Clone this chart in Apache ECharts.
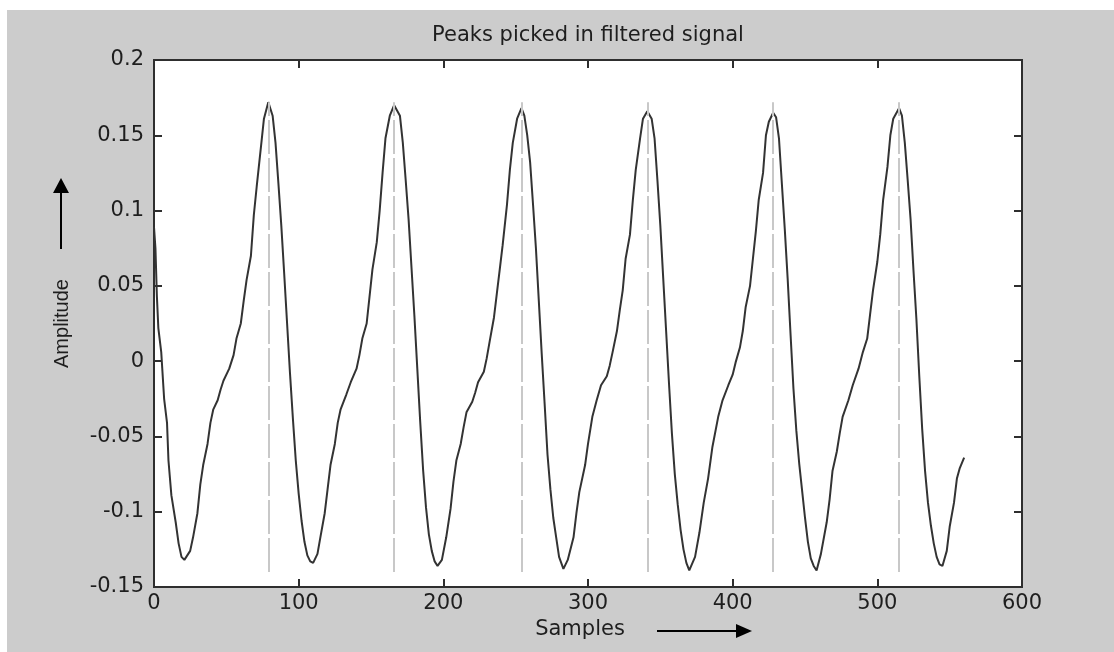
<!DOCTYPE html>
<html>
<head>
<meta charset="utf-8">
<title>Peaks picked in filtered signal</title>
<script src="https://cdn.jsdelivr.net/npm/echarts@6.0.0/dist/echarts.min.js"></script>
<style>
  html, body { margin: 0; padding: 0; background: #ffffff; }
  #chart { position: absolute; left: 7px; top: 10px; width: 1107px; height: 642px; background: #cccccc; }
</style>
</head>
<body>
<div id="chart"></div>
<script>
// filtered signal (sample index -> amplitude)
var samples = [
  0, 1, 2, 3, 5, 7, 9, 10, 12, 15, 17, 19, 21,
  25, 27, 30, 32, 34, 37, 39, 41, 44, 46, 48, 52, 55, 57, 60, 62, 64, 67, 69, 71, 74, 76, 79,
  82, 84, 86, 88, 90, 92, 94, 96, 98, 100, 102, 104, 106, 108, 110,
  113, 115, 118, 120, 122, 125, 127, 129, 133, 136, 140, 142, 144, 147, 149, 151, 154, 156, 158, 160, 163, 166,
  170, 172, 174, 176, 178, 180, 182, 184, 186, 188, 190, 192, 194, 196,
  199, 202, 205, 207, 209, 212, 214, 216, 220, 222, 224, 228, 230, 232, 235, 237, 239, 241, 244, 246, 248, 251, 254,
  256, 258, 260, 262, 264, 266, 268, 270, 272, 274, 276, 278, 280, 283,
  286, 290, 292, 294, 298, 300, 303, 306, 309, 313, 315, 317, 320, 322, 324, 326, 329, 331, 333, 336, 338, 341,
  344, 346, 348, 350, 352, 354, 356, 358, 360, 362, 364, 366, 368, 370,
  374, 377, 380, 383, 386, 390, 393, 397, 400, 402, 405, 407, 409, 412, 414, 416, 418, 421, 423, 425, 428,
  430, 432, 434, 436, 438, 440, 442, 444, 446, 448, 450, 452, 454, 456, 458,
  461, 465, 467, 469, 472, 474, 476, 480, 483, 487, 490, 493, 495, 497, 500, 502, 504, 507, 509, 511, 515,
  517, 519, 521, 523, 525, 527, 529, 531, 533, 535, 537, 539, 541, 543, 545,
  548, 550, 553, 555, 557, 560
];
var amplitude = [
  0.089, 0.075, 0.043, 0.022, 0.006, -0.025, -0.041, -0.066, -0.089, -0.107, -0.121, -0.130, -0.132,
  -0.126, -0.117, -0.101, -0.082, -0.069, -0.055, -0.041, -0.032, -0.026, -0.019, -0.013, -0.005, 0.004, 0.015, 0.025, 0.040, 0.054, 0.070, 0.097, 0.116, 0.143, 0.161, 0.172,
  0.163, 0.145, 0.118, 0.090, 0.058, 0.025, -0.008, -0.038, -0.066, -0.088, -0.106, -0.120, -0.129, -0.133, -0.134,
  -0.128, -0.117, -0.101, -0.085, -0.069, -0.055, -0.041, -0.032, -0.022, -0.014, -0.005, 0.004, 0.015, 0.025, 0.043, 0.061, 0.079, 0.100, 0.125, 0.148, 0.163, 0.170,
  0.163, 0.145, 0.120, 0.094, 0.062, 0.030, -0.005, -0.040, -0.072, -0.097, -0.115, -0.126, -0.133, -0.136,
  -0.132, -0.117, -0.098, -0.080, -0.066, -0.055, -0.044, -0.034, -0.027, -0.021, -0.014, -0.007, 0.002, 0.013, 0.029, 0.045, 0.061, 0.077, 0.104, 0.127, 0.145, 0.161, 0.168,
  0.163, 0.150, 0.132, 0.104, 0.075, 0.040, 0.005, -0.028, -0.062, -0.085, -0.104, -0.117, -0.130, -0.138,
  -0.132, -0.117, -0.101, -0.087, -0.069, -0.055, -0.037, -0.026, -0.016, -0.010, -0.003, 0.006, 0.020, 0.034, 0.047, 0.068, 0.084, 0.107, 0.127, 0.148, 0.161, 0.166,
  0.161, 0.148, 0.120, 0.090, 0.055, 0.020, -0.015, -0.048, -0.075, -0.095, -0.112, -0.125, -0.134, -0.139,
  -0.130, -0.114, -0.094, -0.078, -0.057, -0.037, -0.026, -0.016, -0.009, -0.001, 0.009, 0.020, 0.036, 0.050, 0.068, 0.086, 0.107, 0.125, 0.150, 0.159, 0.165,
  0.162, 0.148, 0.118, 0.088, 0.055, 0.018, -0.018, -0.046, -0.068, -0.086, -0.104, -0.120, -0.131, -0.136, -0.139,
  -0.128, -0.107, -0.092, -0.073, -0.060, -0.048, -0.037, -0.026, -0.016, -0.005, 0.006, 0.015, 0.031, 0.047, 0.066, 0.084, 0.107, 0.129, 0.150, 0.161, 0.168,
  0.163, 0.145, 0.120, 0.094, 0.060, 0.028, -0.010, -0.045, -0.073, -0.094, -0.109, -0.121, -0.130, -0.135, -0.136,
  -0.126, -0.110, -0.094, -0.078, -0.071, -0.064
];

// picked peaks (sample index) and the extent of the marker lines
var peakSamples = [79, 166, 254, 341, 428, 515];
var stemBottom = -0.14;
var stemTop = 0.172;

var xTicks = { min: 0, max: 600, step: 100 };
var yTicks = { min: -0.15, max: 0.2, step: 0.05 };

var axisColor = '#2e2e2e';
var textColor = '#1e1e1e';
var font = 'DejaVu Sans';

var chart = echarts.init(document.getElementById('chart'), null, { renderer: 'canvas' });

var signal = samples.map(function (s, i) { return [s, amplitude[i]]; });
var stems = peakSamples.map(function (s) {
  return [{ coord: [s, stemBottom] }, { coord: [s, stemTop] }];
});

function fmtY(v) {
  return String(Math.round(v * 100) / 100);
}

var tickStyle = { show: true, inside: true, length: 8, lineStyle: { color: axisColor, width: 2 } };
var hiddenLine = { show: false, onZero: false };

var option = {
  backgroundColor: 'transparent',
  animation: false,
  title: {
    text: 'Peaks picked in filtered signal',
    left: 581,
    textAlign: 'center',
    top: 15,
    padding: 0,
    textStyle: { fontFamily: font, fontSize: 21, fontWeight: 'normal', color: textColor }
  },
  grid: {
    left: 147, right: 92, top: 50, bottom: 65,
    show: true,
    backgroundColor: '#ffffff',
    borderColor: axisColor,
    borderWidth: 2
  },
  xAxis: [{
    type: 'value',
    min: xTicks.min, max: xTicks.max, interval: xTicks.step,
    name: 'Samples',
    nameLocation: 'middle',
    nameGap: 28,
    nameTextStyle: { fontFamily: font, fontSize: 21, color: textColor, padding: [0, 16, 0, 0] },
    axisLine: hiddenLine,
    axisTick: tickStyle,
    splitLine: { show: false },
    axisLabel: { margin: 6, fontFamily: font, fontSize: 21, color: textColor }
  }, {
    type: 'value', position: 'top',
    min: xTicks.min, max: xTicks.max, interval: xTicks.step,
    axisLine: hiddenLine,
    axisTick: tickStyle,
    splitLine: { show: false },
    axisLabel: { show: false }
  }],
  yAxis: [{
    type: 'value',
    min: yTicks.min, max: yTicks.max, interval: yTicks.step,
    name: 'Amplitude',
    nameLocation: 'middle',
    nameRotate: 90,
    nameGap: 82,
    nameTextStyle: { fontFamily: 'Liberation Sans', fontSize: 20, color: textColor },
    axisLine: hiddenLine,
    axisTick: tickStyle,
    splitLine: { show: false },
    axisLabel: { margin: 10, fontFamily: font, fontSize: 21, color: textColor, formatter: fmtY }
  }, {
    type: 'value', position: 'right',
    min: yTicks.min, max: yTicks.max, interval: yTicks.step,
    axisLine: hiddenLine,
    axisTick: tickStyle,
    splitLine: { show: false },
    axisLabel: { show: false }
  }],
  graphic: [
    // arrow beside the y label
    { type: 'line', shape: { x1: 54, y1: 182, x2: 54, y2: 239 }, style: { stroke: '#000', lineWidth: 2 } },
    { type: 'polygon', shape: { points: [[46, 183], [62, 183], [54, 168]] }, style: { fill: '#000' } },
    // arrow beside the x label
    { type: 'line', shape: { x1: 650, y1: 621, x2: 731, y2: 621 }, style: { stroke: '#000', lineWidth: 2 } },
    { type: 'polygon', shape: { points: [[729, 614], [729, 628], [745, 621]] }, style: { fill: '#000' } }
  ],
  series: [{
    type: 'line',
    name: 'filtered signal',
    data: signal,
    showSymbol: false,
    smooth: false,
    lineStyle: { color: '#333333', width: 2 },
    markLine: {
      silent: true,
      symbol: ['none', 'none'],
      label: { show: false },
      lineStyle: { color: '#c8c8c8', width: 2, type: [34, 4] },
      data: stems
    }
  }]
};

chart.setOption(option);
</script>
</body>
</html>
